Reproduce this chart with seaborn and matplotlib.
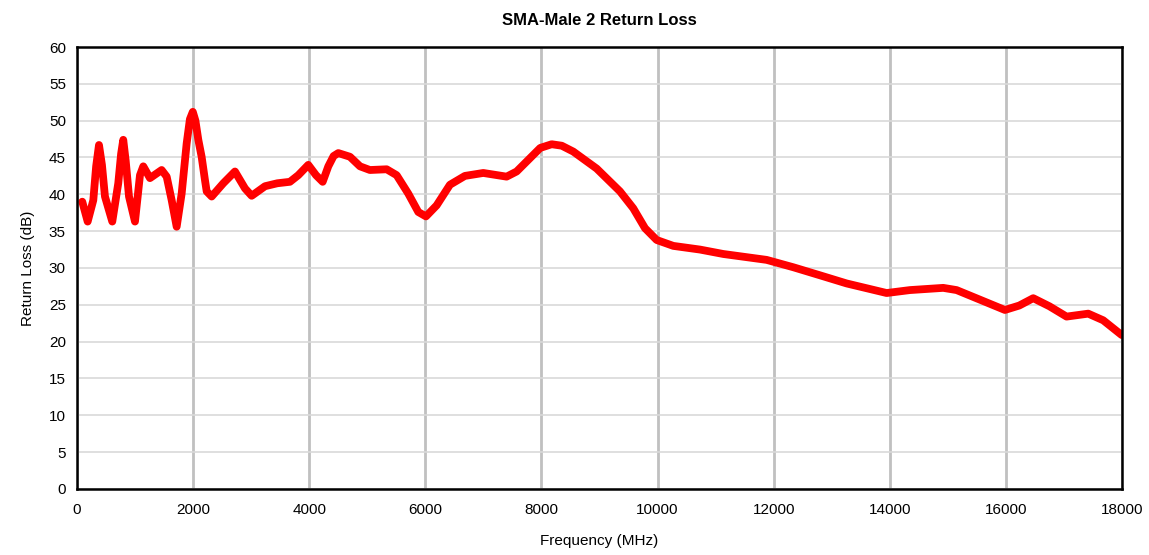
import numpy as np
import pandas as pd
import seaborn as sns
import matplotlib.pyplot as plt

# values
freq_mhz = [91, 184, 281, 330, 379, 430, 482, 608, 711, 760, 797, 840, 896, 999,
            1085, 1142, 1257, 1458, 1545, 1631, 1717, 1803, 1889, 1945, 1995, 2040,
            2090, 2147, 2205, 2234, 2320, 2520, 2721, 2894, 3009, 3239, 3450, 3668,
            3812, 3984, 4117, 4232, 4329, 4420, 4501, 4702, 4875, 5046, 5334, 5506,
            5706, 5879, 6011, 6195, 6424, 6682, 6998, 7400, 7573, 7802, 7980, 8176,
            8350, 8549, 8951, 9353, 9582, 9784, 9985, 10271, 10731, 11132, 11879,
            12338, 12800, 13257, 13946, 14347, 14921, 15151, 15552, 15983, 16230,
            16471, 16750, 17045, 17418, 17676, 17994]
return_loss = [39.0, 36.3, 39.2, 43.8, 46.7, 44.0, 39.7, 36.3, 41.5, 45.5, 47.4, 44.5,
               39.7, 36.3, 42.6, 43.8, 42.2, 43.3, 42.4, 39.2, 35.6, 40.1, 46.9, 50.2,
               51.2, 50.0, 47.4, 45.1, 41.9, 40.4, 39.7, 41.5, 43.1, 40.8, 39.8, 41.1,
               41.5, 41.7, 42.6, 44.0, 42.6, 41.7, 43.8, 45.2, 45.6, 45.1, 43.8, 43.3,
               43.4, 42.6, 40.1, 37.6, 37.0, 38.5, 41.3, 42.5, 42.9, 42.4, 43.1, 44.9,
               46.3, 46.8, 46.6, 45.8, 43.5, 40.4, 38.1, 35.4, 33.8, 33.0, 32.5, 31.9,
               31.1, 30.1, 29.0, 27.9, 26.6, 27.0, 27.3, 27.0, 25.7, 24.3, 24.9, 25.9,
               24.8, 23.4, 23.8, 22.9, 20.9]

df = pd.DataFrame({'Frequency': freq_mhz, 'ReturnLoss': return_loss})

sns.set_style('white')
plt.rcParams['font.family'] = ['Liberation Sans', 'DejaVu Sans']
plt.rcParams['text.color'] = 'black'
plt.rcParams['axes.labelcolor'] = 'black'
plt.rcParams['xtick.color'] = 'black'
plt.rcParams['ytick.color'] = 'black'

fig = plt.figure(figsize=(11.49, 5.55), dpi=100)
ax = fig.add_axes([0.067, 0.119, 0.9095, 0.7963])

sns.lineplot(data=df, x='Frequency', y='ReturnLoss', color='#ff0000', linewidth=5.6,
             ax=ax, solid_capstyle='round', solid_joinstyle='round')

ax.set_xlim(0, 18000)
ax.set_ylim(0, 60)
ax.set_xticks(np.arange(0, 18001, 2000))
ax.set_yticks(np.arange(0, 61, 5))

# Excel-style gridlines: darker verticals, lighter horizontals
ax.xaxis.grid(True, color='#c0c0c0', linewidth=2)
ax.yaxis.grid(True, color='#d9d9d9', linewidth=1.2)
ax.set_axisbelow(True)

for side in ['top', 'bottom', 'left', 'right']:
    ax.spines[side].set_visible(True)
    ax.spines[side].set_color('black')
    ax.spines[side].set_linewidth(1.8)

ax.tick_params(axis='both', direction='out', length=4, width=1.5, color='black',
               labelsize=11, pad=4)
ax.tick_params(axis='x', pad=6)

ax.set_title('SMA-Male 2 Return Loss', fontsize=12, fontweight='bold', pad=16)
ax.set_xlabel('Frequency (MHz)', fontsize=11, labelpad=12)
ax.set_ylabel('Return Loss (dB)', fontsize=11, labelpad=10)

fig.savefig('out.png', dpi=100)
